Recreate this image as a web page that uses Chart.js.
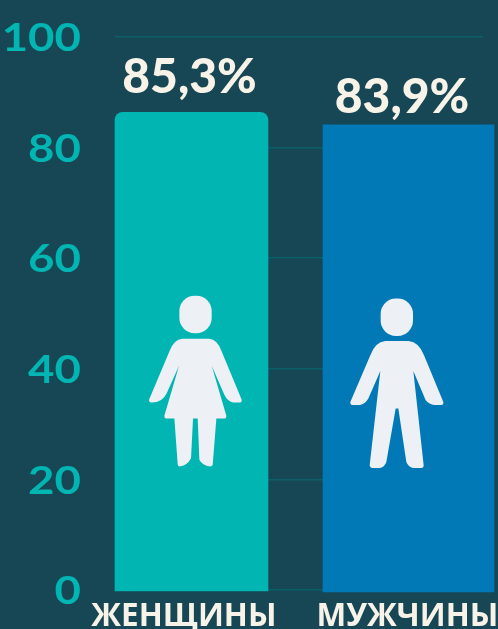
<!DOCTYPE html>
<html><head><meta charset="utf-8">
<style>html,body{margin:0;padding:0;background:#174654;overflow:hidden}#w{width:498px;height:629px;position:relative}</style>
<script src="https://cdn.jsdelivr.net/npm/chart.js@4"></script>
</head><body><div id="w"><canvas id="c"></canvas></div>
<script>
const categories = ['ЖЕНЩИНЫ', 'МУЖЧИНЫ'];
const barHeights = [86.4, 84.1];
const barBases = [-0.15, -0.35];
const valueLabels = ['85,3%', '83,9%'];
const yTicks = [0, 20, 40, 60, 80, 100];
const iconTops = [53.2, 52.7];

const WOMAN = 'M-40 129L40 129Q66 131 78 167L138 312Q139 320 133 320L113 320Q96 318 86 297L48 210L92 360Q92 368 88 368L62 368L51 507Q50 512 43 512Q20 510 11 492L6 368L-8 368L-14 487Q-26 510 -49 512Q-54 510 -54 505L-64 368L-90 368Q-95 366 -94 360L-50 210L-87 292Q-100 320 -132 320Q-141 320 -140 312L-79 167Q-66 131 -40 129Z';
const MAN = 'M-35 127L35 127Q66 130 81 170L139 310Q140 319 133 319L113 319Q96 317 86 305L49 217L80 500Q80 508 73 508L48 508Q34 505 28 490L4 330L-4 330L-32 490Q-38 507 -52 508L-75 508Q-82 507 -82 500L-50 217L-86 300Q-96 318 -112 319L-134 319Q-141 318 -140 310L-80 170Q-66 130 -35 127Z';

const decor = {
  id: 'decor',
  afterDatasetsDraw(chart) {
    const { ctx, scales: { x, y } } = chart;
    [[WOMAN, 4.2], [MAN, -11.5]].forEach(([d, dx], i) => {
      const bar = chart.getDatasetMeta(i).data[0];
      ctx.save();
      ctx.translate(bar.x + dx, y.getPixelForValue(iconTops[i]));
      ctx.scale(1 / 3, 1 / 3);
      ctx.fillStyle = '#edf0f4';
      ctx.beginPath();
      ctx.roundRect(-49, 0, 97, 112, 46);
      ctx.fill();
      ctx.fill(new Path2D(d));
      ctx.restore();
    });
    ctx.save();
    ctx.fillStyle = '#f8f3e8';
    ctx.textAlign = 'center';
    ctx.textBaseline = 'alphabetic';
    ctx.font = '900 48px Lato';
    const lab = [[-2, 19], [-6.5, 12]];
    valueLabels.forEach((t, i) => {
      const bar = chart.getDatasetMeta(i).data[0];
      ctx.fillText(t, bar.x + lab[i][0], bar.y - lab[i][1]);
    });
    ctx.restore();
    ctx.save();
    ctx.fillStyle = '#00b5b2';
    ctx.textAlign = 'right';
    ctx.textBaseline = 'middle';
    ctx.font = 'bold 38px Lato';
    yTicks.forEach(v => {
      ctx.save();
      ctx.translate(81, y.getPixelForValue(v) + 2);
      ctx.scale(1.2, 1);
      ctx.fillText(String(v), 0, 0);
      ctx.restore();
    });
    ctx.restore();
  }
};

const ds = (i, color, thick, radius) => ({
  label: categories[i],
  data: [{ x: i, y: barHeights[i] }],
  base: barBases[i],
  backgroundColor: color,
  barThickness: thick,
  borderRadius: radius,
  borderSkipped: 'bottom',
  grouped: false,
  clip: false
});

new Chart(document.getElementById('c'), {
  type: 'bar',
  data: { datasets: [
    ds(0, '#00b5b2', 153, { topLeft: 8, topRight: 8, bottomLeft: 0, bottomRight: 0 }),
    ds(1, '#0079b6', 171, 0)
  ] },
  options: {
    responsive: true,
    maintainAspectRatio: false,
    animation: false,
    events: [],
    layout: { padding: { left: 0, right: 15, top: 37, bottom: 0 } },
    plugins: { legend: { display: false }, tooltip: { enabled: false } },
    scales: {
      x: {
        type: 'linear',
        offset: false,
        min: -0.3525,
        max: 1.3433,
        afterFit(s) { s.height = 39; s.paddingLeft = 0; s.paddingRight = 0; },
        afterBuildTicks(s) { s.ticks = [{ value: -0.035 }, { value: 0.995 }]; },
        grid: { display: false },
        border: { display: false },
        ticks: {
          callback: (v, i) => categories[i],
          autoSkip: false,
          maxRotation: 0,
          padding: 0,
          color: '#f8f3e8',
          font: { family: 'Open Sans', weight: 'bold', size: 31.5 }
        }
      },
      y: {
        min: 0,
        max: 100,
        afterFit(s) { s.width = 115; },
        afterBuildTicks(s) { s.ticks = yTicks.map(v => ({ value: v })); },
        grid: { color: '#0c5f68', lineWidth: 1.5, drawTicks: false },
        border: { display: false },
        ticks: { display: false }
      }
    }
  },
  plugins: [decor]
});
</script></body></html>
